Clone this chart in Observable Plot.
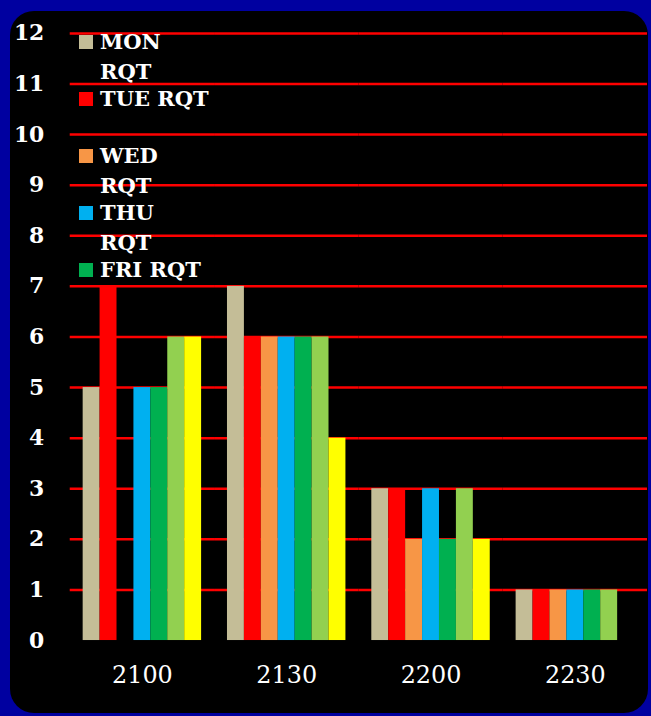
<!DOCTYPE html>
<html><head><meta charset="utf-8">
<script src="https://cdn.jsdelivr.net/npm/d3@7"></script>
<script src="https://cdn.jsdelivr.net/npm/@observablehq/plot@0.6"></script>
<style>
body{margin:0;background:#0000a0;width:651px;height:716px;overflow:hidden;position:relative;}
#panel{position:absolute;left:10px;top:11px;width:638px;height:702px;background:#000;border-radius:24px;}
#chart{position:absolute;left:0;top:0;}
#legend{position:absolute;left:69px;top:16px;font-family:"DejaVu Serif",serif;font-weight:bold;font-size:21px;color:#fff;}
.item{position:absolute;left:0;height:57px;}
.sw{position:absolute;left:0;top:8px;width:14px;height:14px;}
.lab{position:absolute;left:21px;top:0;width:110px;line-height:30px;}
</style></head>
<body>
<div id="panel"><div id="chart"></div><div id="legend"></div></div>
<script>
const times = ["2100", "2130", "2200", "2230"];
const series = ["MON RQT", "TUE RQT", "WED RQT", "THU RQT", "FRI RQT", "SAT RQT", "SUN RQT"];
const colors = ["#C4BD97", "#FF0000", "#F79646", "#00B0F0", "#00B050", "#92D050", "#FFFF00"];
const mon = [5, 7, 3, 1];
const tue = [7, 6, 3, 1];
const wed = [null, 6, 2, 1];
const thu = [5, 6, 3, 1];
const fri = [5, 6, 2, 1];
const sat = [6, 6, 3, 1];
const sun = [6, 4, 2, null];
const legendShown = ["MON RQT", "TUE RQT", "WED RQT", "THU RQT", "FRI RQT"];
const yTicks = [0,1,2,3,4,5,6,7,8,9,10,11,12];

const valuesBySeries = [mon, tue, wed, thu, fri, sat, sun];
const data = [];
series.forEach((s, i) => times.forEach((t, j) => {
  const v = valuesBySeries[i][j];
  if (v != null) data.push({time: t, series: s, value: v});
}));

const chart = Plot.plot({
  width: 641, height: 702,
  marginLeft: 60, marginRight: 1, marginTop: 22, marginBottom: 70,
  style: {background: "transparent", color: "#fff", fontFamily: "DejaVu Serif, serif", overflow: "visible"},
  fx: {domain: times, padding: 0, label: null, axis: null},
  x: {domain: series, axis: null, paddingInner: 0, paddingOuter: 0.71},
  y: {domain: [0, 12], label: null},
  color: {domain: series, range: colors},
  marks: [
    Plot.ruleY(yTicks.filter(d => d > 0), {stroke: "#FF0000", strokeWidth: 2.5}),
    Plot.barY(data, {fx: "time", x: "series", y: "value", fill: "series", inset: 0}),
    Plot.axisY({ticks: yTicks, tickSize: 0, tickPadding: 26, fontSize: 22, fontWeight: "bold", label: null}),
    Plot.axisFx({anchor: "bottom", tickSize: 0, tickPadding: 26, fontSize: 24, label: null})
  ]
});
document.getElementById("chart").appendChild(chart);

const leg = document.getElementById("legend");
legendShown.forEach((s, i) => {
  const it = document.createElement("div");
  it.className = "item";
  it.style.top = (i * 57) + "px";
  const sw = document.createElement("div");
  sw.className = "sw";
  sw.style.background = colors[series.indexOf(s)];
  const lab = document.createElement("div");
  lab.className = "lab";
  lab.textContent = s;
  it.appendChild(sw); it.appendChild(lab);
  leg.appendChild(it);
});
</script>
</body></html>
